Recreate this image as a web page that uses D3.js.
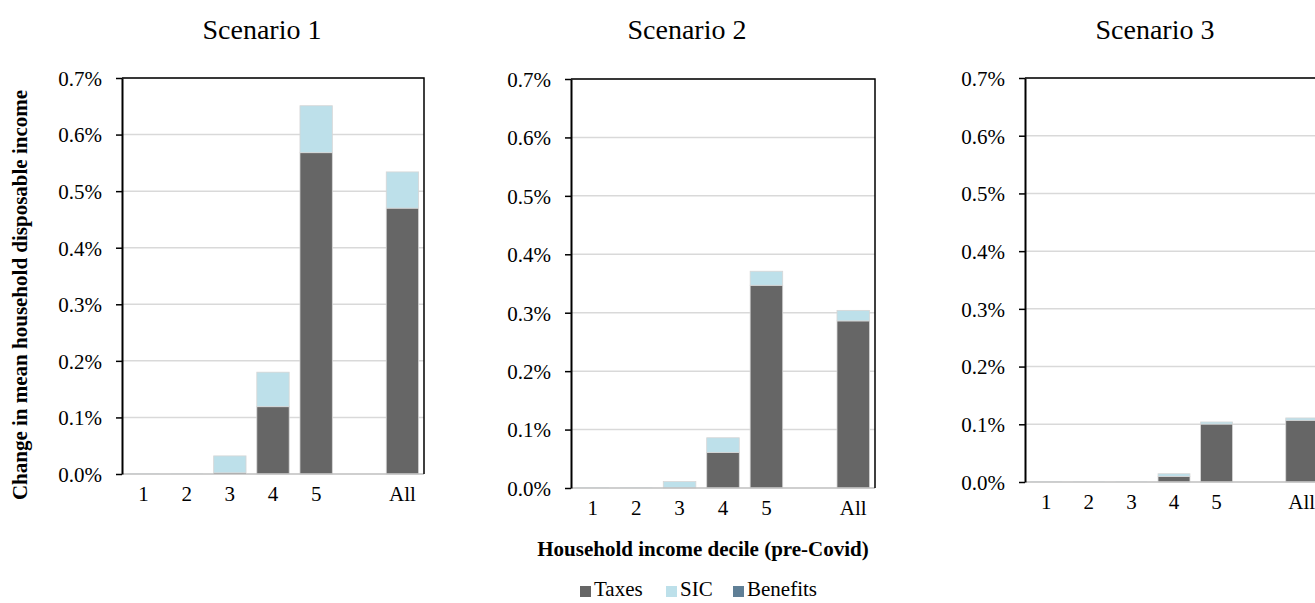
<!DOCTYPE html>
<html>
<head>
<meta charset="utf-8">
<script src="https://cdn.jsdelivr.net/npm/d3@7"></script>
<style>
  body { margin: 0; background: #fff; }
  svg text { font-family: "Liberation Serif", "Times New Roman", serif; fill: #000; }
</style>
</head>
<body>
<div id="chart"></div>
<script>
// categories on the x axis (blank slot between 5 and All)
var categories = ["1", "2", "3", "4", "5", "", "All"];
var seriesNames = ["Taxes", "SIC", "Benefits"];
var yTicks = [0, 0.1, 0.2, 0.3, 0.4, 0.5, 0.6, 0.7];

// values in % of mean household disposable income
var taxes1 = [0, 0, 0.002, 0.119, 0.568, 0, 0.470];
var sic1 = [0.0005, 0.0005, 0.030, 0.061, 0.083, 0, 0.064];
var benefits1 = [0, 0, 0, 0, 0, 0, 0];

var taxes2 = [0, 0, 0, 0.061, 0.347, 0, 0.286];
var sic2 = [0.0005, 0.0005, 0.011, 0.025, 0.024, 0, 0.018];
var benefits2 = [0, 0, 0, 0, 0, 0, 0];

var taxes3 = [0, 0, 0, 0.0098, 0.1004, 0, 0.107];
var sic3 = [0.0004, 0.0004, 0.0004, 0.0045, 0.0036, 0, 0.004];
var benefits3 = [0, 0, 0, 0, 0, 0, 0];

var scenarioTitles = ["Scenario 1", "Scenario 2", "Scenario 3"];

var colors = { "Taxes": "#666666", "SIC": "#bde0ea", "Benefits": "#5f7f96" };

// panel layout (pixels)
var panels = [
  { title: scenarioTitles[0], taxes: taxes1, sic: sic1, benefits: benefits1, left: 122, right: 424, top: 78, bottom: 474, titleX: 262 },
  { title: scenarioTitles[1], taxes: taxes2, sic: sic2, benefits: benefits2, left: 571, right: 875, top: 79, bottom: 488, titleX: 687 },
  { title: scenarioTitles[2], taxes: taxes3, sic: sic3, benefits: benefits3, left: 1025, right: 1323, top: 78, bottom: 482, titleX: 1155 }
];

var svg = d3.select("#chart")
  .append("svg")
  .attr("width", 1315)
  .attr("height", 603);

var pct = d3.format(".1%");

panels.forEach(function (p) {
  var rows = categories.map(function (c, i) {
    return { cat: c, Taxes: p.taxes[i], SIC: p.sic[i], Benefits: p.benefits[i] };
  });
  var stacked = d3.stack().keys(seriesNames)(rows);

  var x = d3.scaleBand()
    .domain(categories)
    .range([p.left, p.right])
    .paddingInner(0.25)
    .paddingOuter(0.125);

  var y = d3.scaleLinear()
    .domain([0, 0.7])
    .range([p.bottom, p.top]);

  var g = svg.append("g");

  // gridlines
  g.selectAll("line.grid")
    .data(yTicks.slice(1))
    .enter()
    .append("line")
    .attr("class", "grid")
    .attr("x1", p.left)
    .attr("x2", p.right)
    .attr("y1", function (d) { return y(d) })
    .attr("y2", function (d) { return y(d) })
    .style("stroke", "#d9d9d9")
    .style("stroke-width", 1.5);

  // bars
  g.selectAll("g.series")
    .data(stacked)
    .enter()
    .append("g")
    .attr("class", "series")
    .style("fill", function (d) { return colors[d.key] })
    .selectAll("rect")
    .data(function (d) { return d.filter(function (s) { return s.data.cat !== "" }) })
    .enter()
    .append("rect")
    .attr("x", function (d) { return x(d.data.cat) })
    .attr("width", x.bandwidth())
    .attr("y", function (d) { return y(d[1]) })
    .attr("height", function (d) { return Math.max(0, y(d[0]) - y(d[1])) })
    .style("stroke", function (d) { return d[1] - d[0] > 0.003 ? "#d6d6d6" : "none" })
    .style("stroke-width", 0.8);

  // zero line
  g.append("line")
    .attr("x1", p.left).attr("x2", p.right)
    .attr("y1", y(0)).attr("y2", y(0))
    .style("stroke", "#bfbfbf")
    .style("stroke-width", 1.5);

  // top and right border
  g.append("path")
    .attr("d", "M" + p.left + "," + y(0.7) + "H" + p.right + "V" + y(0))
    .style("fill", "none")
    .style("stroke", "#000")
    .style("stroke-width", 1.5);

  // y axis
  var yAxis = g.append("g")
    .attr("transform", "translate(" + p.left + ",0)")
    .call(d3.axisLeft(y)
      .tickValues(yTicks)
      .tickSize(6)
      .tickSizeOuter(0)
      .tickPadding(14)
      .tickFormat(function (d) { return pct(d / 100) }));
  yAxis.select(".domain").style("stroke", "#000").style("stroke-width", 2);
  yAxis.selectAll(".tick line").style("stroke", "#000").style("stroke-width", 1.5);
  yAxis.selectAll("text")
    .style("font-size", "21px")
    .attr("dy", "0.35em");

  // x axis labels
  var xAxis = g.append("g")
    .attr("transform", "translate(0," + y(0) + ")")
    .call(d3.axisBottom(x).tickSize(0).tickPadding(12));
  xAxis.select(".domain").remove();
  xAxis.selectAll("text").style("font-size", "21px");

  // title
  g.append("text")
    .attr("x", p.titleX)
    .attr("y", 39)
    .attr("text-anchor", "middle")
    .style("font-size", "28px")
    .text(p.title);
});

// axis titles
svg.append("text")
  .attr("transform", "translate(27,295)rotate(-90)")
  .attr("text-anchor", "middle")
  .style("font-size", "21px")
  .style("font-weight", "bold")
  .text("Change in mean household disposable income");

svg.append("text")
  .attr("x", 703)
  .attr("y", 556)
  .attr("text-anchor", "middle")
  .style("font-size", "21px")
  .style("font-weight", "bold")
  .text("Household income decile (pre-Covid)");

// legend
var legendX = [580, 666, 733];
var legend = svg.selectAll("g.legend")
  .data(seriesNames)
  .enter()
  .append("g")
  .attr("class", "legend")
  .attr("transform", function (d, i) { return "translate(" + legendX[i] + ",586)" });
legend.append("rect")
  .attr("width", 11)
  .attr("height", 11)
  .style("fill", function (d) { return colors[d] });
legend.append("text")
  .attr("x", 14)
  .attr("y", 10)
  .style("font-size", "21px")
  .text(function (d) { return d });
</script>
</body>
</html>
